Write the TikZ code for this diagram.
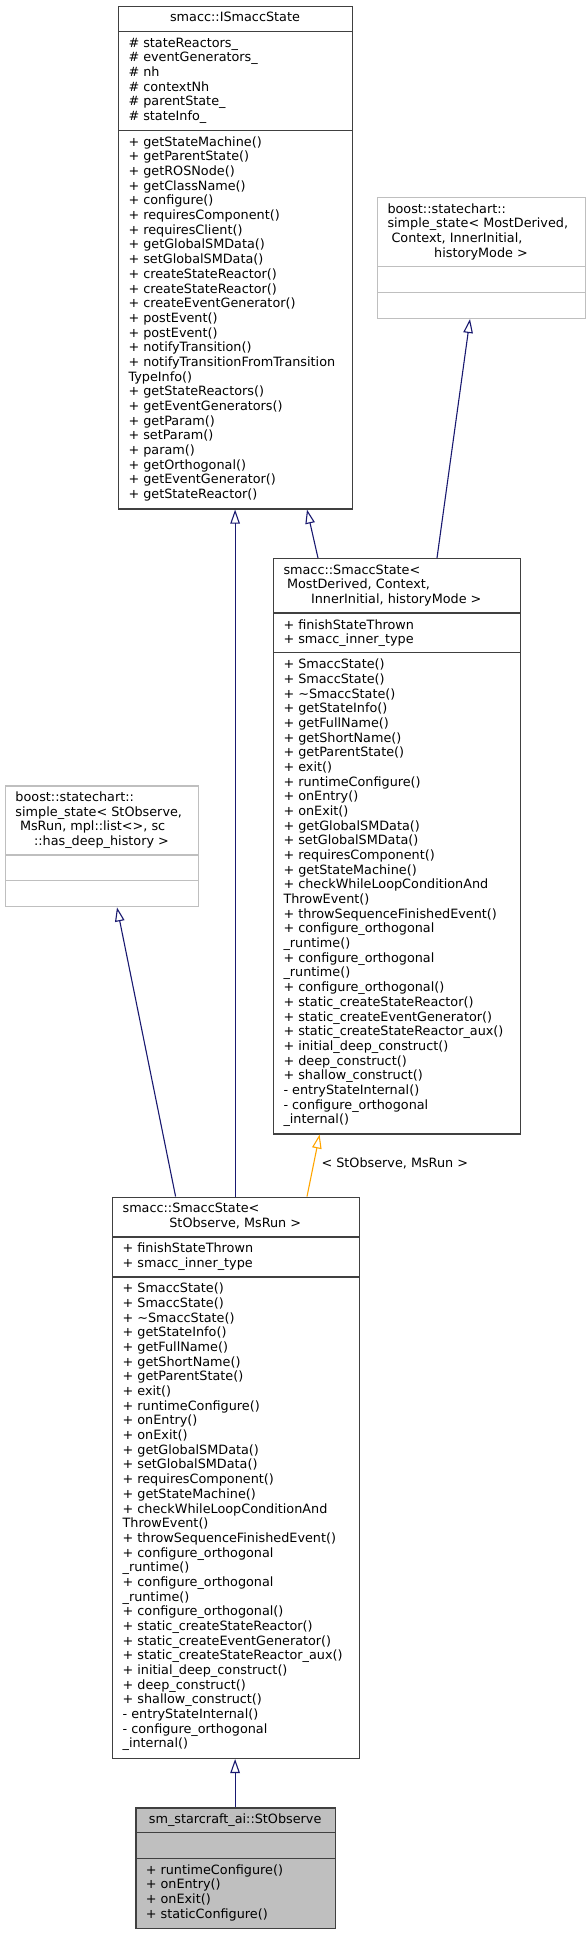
\documentclass[tikz,border=0pt]{standalone}
\usepackage{fontspec}
\setmainfont{DejaVu Sans}
\usetikzlibrary{arrows.meta,calc}
\definecolor{edgegray}{HTML}{404040}
\definecolor{lightgray75}{HTML}{BFBFBF}
\definecolor{navyedge}{HTML}{191970}
\definecolor{orangeedge}{HTML}{FFA500}
\tikzset{
  cls/.style={draw=edgegray, line width=1.3pt, fill=white, inner sep=0pt, anchor=north west},
  extcls/.style={draw=lightgray75, line width=1.3pt, fill=white, inner sep=0pt, anchor=north west},
  curcls/.style={cls, fill=lightgray75},
  sepdark/.style={draw=edgegray, line width=1.3pt},
  seplight/.style={draw=lightgray75, line width=1.3pt},
  txt/.style={inner sep=0pt, outer sep=0pt, font=\fontsize{12.8}{14.68}\selectfont, anchor=base west},
  ctxt/.style={txt, anchor=base},
  inh/.style={draw=navyedge, line width=1.1pt, -{Triangle[open, length=14pt, width=9.5pt]}},
  tmpl/.style={draw=orangeedge, line width=1.1pt, -{Triangle[open, length=14pt, width=9.5pt]}},
}
\newcommand\tlines[4]{\foreach \tl [count=\ti from 0] in {#4}{\node[txt] (#1-\ti) at (#2,#3+\ti*14.68) {\tl};}}
\begin{document}
\begin{tikzpicture}[x=1pt,y=-1pt]
\useasboundingbox (0,0) rectangle (587,1933);

% ---------- smacc::ISmaccState
\node[cls, minimum width=234pt, minimum height=502.8pt] (ism) at (118,5.5) {};
\draw[sepdark] ($(ism.north west)+(0,25.7)$) -- ($(ism.north east)+(0,25.7)$);
\draw[sepdark] ($(ism.north west)+(0,124.8)$) -- ($(ism.north east)+(0,124.8)$);
\node[ctxt] (ism-title) at (235,21.5) {smacc::ISmaccState};
\tlines{isma}{128.5}{47}{\# stateReactors\_, \# eventGenerators\_, \# nh, \# contextNh, \# parentState\_, \# stateInfo\_}
\tlines{ismm}{128.5}{146.2}{+ getStateMachine(), + getParentState(), + getROSNode(), + getClassName(), + configure(), + requiresComponent(), + requiresClient(), + getGlobalSMData(), + setGlobalSMData(), + createStateReactor(), + createStateReactor(), + createEventGenerator(), + postEvent(), + postEvent(), + notifyTransition(), + notifyTransitionFromTransition, TypeInfo(), + getStateReactors(), + getEventGenerators(), + getParam(), + setParam(), + param(), + getOrthogonal(), + getEventGenerator(), + getStateReactor()}

% ---------- boost simple_state< MostDerived, ... >
\node[extcls, minimum width=208pt, minimum height=120.7pt] (bst) at (377,197) {};
\draw[seplight] ($(bst.north west)+(0,69.7)$) -- ($(bst.north east)+(0,69.7)$);
\draw[seplight] ($(bst.north west)+(0,95.2)$) -- ($(bst.north east)+(0,95.2)$);
\node[txt] (bst-t0) at (387.5,213) {boost::statechart::};
\node[txt] (bst-t1) at (387.5,227.7) {simple\_state< MostDerived,};
\node[txt] (bst-t2) at (391.5,242.4) {Context, InnerInitial,};
\node[ctxt] (bst-t3) at (481,257.1) {historyMode >};

% ---------- smacc::SmaccState< MostDerived, ... >
\node[cls, minimum width=246.5pt, minimum height=575.2pt] (tpl) at (273,558) {};
\draw[sepdark] ($(tpl.north west)+(0,55)$) -- ($(tpl.north east)+(0,55)$);
\draw[sepdark] ($(tpl.north west)+(0,94.8)$) -- ($(tpl.north east)+(0,94.8)$);
\node[txt] (tpl-t0) at (283.5,574) {smacc::SmaccState<};
\node[txt] (tpl-t1) at (287,588.7) {MostDerived, Context,};
\node[ctxt] (tpl-t2) at (396.25,603.4) {InnerInitial, historyMode >};
\tlines{tpla}{283.5}{629}{+ finishStateThrown, + smacc\_inner\_type}
\tlines{tplm}{283.5}{668.7}{+ SmaccState(), + SmaccState(), + \textasciitilde SmaccState(), + getStateInfo(), + getFullName(), + getShortName(), + getParentState(), + exit(), + runtimeConfigure(), + onEntry(), + onExit(), + getGlobalSMData(), + setGlobalSMData(), + requiresComponent(), + getStateMachine(), + checkWhileLoopConditionAnd, ThrowEvent(), + throwSequenceFinishedEvent(), + configure\_orthogonal, \_runtime(), + configure\_orthogonal, \_runtime(), + configure\_orthogonal(), + static\_createStateReactor(), + static\_createEventGenerator(), + static\_createStateReactor\_aux(), + initial\_deep\_construct(), + deep\_construct(), + shallow\_construct(), - entryStateInternal(), - configure\_orthogonal, \_internal()}

% ---------- boost simple_state< StObserve, ... >
\node[extcls, minimum width=193pt, minimum height=120.7pt] (ss) at (5,785.4) {};
\draw[seplight] ($(ss.north west)+(0,69.7)$) -- ($(ss.north east)+(0,69.7)$);
\draw[seplight] ($(ss.north west)+(0,95.2)$) -- ($(ss.north east)+(0,95.2)$);
\node[txt] (ss-t0) at (15.5,801.3) {boost::statechart::};
\node[txt] (ss-t1) at (15.5,816) {simple\_state< StObserve,};
\node[txt] (ss-t2) at (20,830.7) {MsRun, mpl::list<>, sc};
\node[ctxt] (ss-t3) at (101.5,845.4) {::has\_deep\_history >};

% ---------- smacc::SmaccState< StObserve, MsRun >
\node[cls, minimum width=246.5pt, minimum height=561.2pt] (low) at (112,1196.5) {};
\draw[sepdark] ($(low.north west)+(0,40.4)$) -- ($(low.north east)+(0,40.4)$);
\draw[sepdark] ($(low.north west)+(0,80.5)$) -- ($(low.north east)+(0,80.5)$);
\node[txt] (low-t0) at (122.6,1212.5) {smacc::SmaccState<};
\node[ctxt] (low-t1) at (235.25,1227.2) {StObserve, MsRun >};
\tlines{lowa}{122.6}{1252.6}{+ finishStateThrown, + smacc\_inner\_type}
\tlines{lowm}{122.6}{1292.8}{+ SmaccState(), + SmaccState(), + \textasciitilde SmaccState(), + getStateInfo(), + getFullName(), + getShortName(), + getParentState(), + exit(), + runtimeConfigure(), + onEntry(), + onExit(), + getGlobalSMData(), + setGlobalSMData(), + requiresComponent(), + getStateMachine(), + checkWhileLoopConditionAnd, ThrowEvent(), + throwSequenceFinishedEvent(), + configure\_orthogonal, \_runtime(), + configure\_orthogonal, \_runtime(), + configure\_orthogonal(), + static\_createStateReactor(), + static\_createEventGenerator(), + static\_createStateReactor\_aux(), + initial\_deep\_construct(), + deep\_construct(), + shallow\_construct(), - entryStateInternal(), - configure\_orthogonal, \_internal()}

% ---------- sm_starcraft_ai::StObserve
\node[curcls, minimum width=199.7pt, minimum height=120.7pt] (sto) at (135.3,1807.2) {};
\draw[sepdark] ($(sto.north west)+(0,25.5)$) -- ($(sto.north east)+(0,25.5)$);
\draw[sepdark] ($(sto.north west)+(0,51)$) -- ($(sto.north east)+(0,51)$);
\node[ctxt] (sto-title) at (235.15,1823.2) {sm\_starcraft\_ai::StObserve};
\tlines{stom}{145.8}{1874.2}{+ runtimeConfigure(), + onEntry(), + onExit(), + staticConfigure()}

% ---------- connectors
\draw[inh] ($(low.north west)+(123.1,0)$) -- ($(ism.south west)+(117.1,0)$);
\draw[inh] ($(tpl.north west)+(45,0)$) -- ($(ism.south west)+(189,0)$);
\draw[inh] ($(tpl.north west)+(164,0)$) -- ($(bst.south west)+(93,0)$);
\draw[inh] ($(low.north west)+(63.6,0)$) -- ($(ss.south west)+(112,0)$);
\draw[tmpl] ($(low.north west)+(195,0)$) -- ($(tpl.south west)+(46.6,0)$);
\node[txt] (tmpl-label) at (321.5,1167.8) {< StObserve, MsRun >};
\draw[inh] ($(sto.north west)+(99.8,0)$) -- ($(low.south west)+(123.1,0)$);
\end{tikzpicture}
\end{document}
